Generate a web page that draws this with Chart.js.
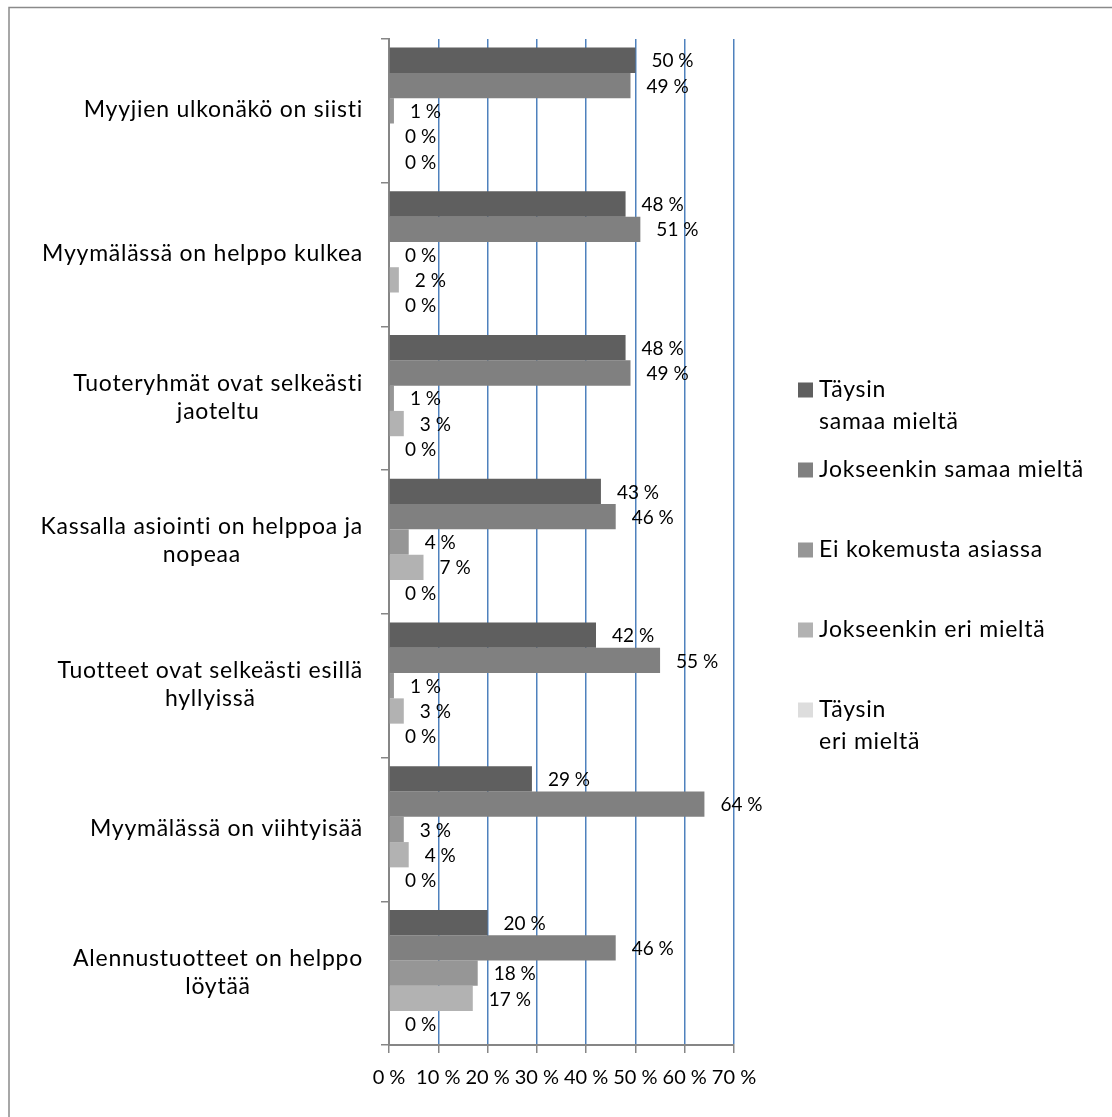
<!DOCTYPE html>
<html>
<head>
<meta charset="utf-8">
<script src="https://cdn.jsdelivr.net/npm/chart.js@4/dist/chart.umd.min.js"></script>
<style>
  html, body { margin: 0; padding: 0; background: #fff; }
  #wrap { width: 1112px; height: 1117px; }
</style>
</head>
<body>
<div id="wrap"><canvas id="c" width="1112" height="1117"></canvas></div>
<script>
// Survey statements (one row per statement, long ones wrapped onto two lines)
const categories = [
  ['Myyjien ulkonäkö on siisti'],
  ['Myymälässä on helppo kulkea'],
  ['Tuoteryhmät ovat selkeästi', 'jaoteltu'],
  ['Kassalla asiointi on helppoa ja', 'nopeaa'],
  ['Tuotteet ovat selkeästi esillä', 'hyllyissä'],
  ['Myymälässä on viihtyisää'],
  ['Alennustuotteet on helppo', 'löytää']
];

// Answer options as shown in the legend
const seriesNames = [
  ['Täysin', 'samaa mieltä'],
  ['Jokseenkin samaa mieltä'],
  ['Ei kokemusta asiassa'],
  ['Jokseenkin eri mieltä'],
  ['Täysin', 'eri mieltä']
];

// Share of respondents (%) per statement
const taysinSamaa     = [50, 48, 48, 43, 42, 29, 20];
const jokseenkinSamaa = [49, 51, 49, 46, 55, 64, 46];
const eiKokemusta     = [1, 0, 1, 4, 1, 3, 18];
const jokseenkinEri   = [0, 2, 3, 7, 3, 4, 17];
const taysinEri       = [0, 0, 0, 0, 0, 0, 0];

// Value axis ticks
const xTicks = [0, 10, 20, 30, 40, 50, 60, 70];

const seriesColors = ['#5f5f5f', '#808080', '#969696', '#b2b2b2', '#dddddd'];
const FONT = 'Lato, "Open Sans", sans-serif';
const LABEL_SIZE = 23;        // category names and legend
const LABEL_SPACING = '0.75px';
const VALUE_SIZE = 19;        // bar value labels

const seriesData = [taysinSamaa, jokseenkinSamaa, eiKokemusta, jokseenkinEri, taysinEri];

// Outer frame (top and left edges)
const framePlugin = {
  id: 'frame',
  beforeDraw(chart) {
    const ctx = chart.ctx;
    ctx.save();
    ctx.strokeStyle = '#8a8a8a';
    ctx.lineWidth = 1.5;
    ctx.beginPath();
    ctx.moveTo(9, chart.height);
    ctx.lineTo(9, 7.5);
    ctx.lineTo(chart.width, 7.5);
    ctx.stroke();
    ctx.restore();
  }
};

// Category names: block right-aligned to the axis, lines centred within the block
const categoryLabelPlugin = {
  id: 'categoryLabels',
  afterDraw(chart) {
    const ctx = chart.ctx;
    const yScale = chart.scales.y;
    ctx.save();
    ctx.font = LABEL_SIZE + 'px ' + FONT;
    ctx.letterSpacing = LABEL_SPACING;
    ctx.fillStyle = '#000';
    ctx.textAlign = 'left';
    ctx.textBaseline = 'middle';
    const rightEdge = chart.chartArea.left - 26;
    const lineH = 28;
    categories.forEach((lines, i) => {
      const widths = lines.map(l => ctx.measureText(l).width);
      const widest = Math.max(...widths);
      const cx = rightEdge - widest / 2;
      const cy = yScale.getPixelForValue(i) - 1;
      const y0 = cy - (lines.length - 1) * lineH / 2;
      lines.forEach((l, j) => ctx.fillText(l, cx - widths[j] / 2, y0 + j * lineH));
    });
    ctx.restore();
  }
};

// Value labels just past the end of each bar
const valueLabelPlugin = {
  id: 'valueLabels',
  afterDatasetsDraw(chart) {
    const ctx = chart.ctx;
    ctx.save();
    ctx.font = VALUE_SIZE + 'px ' + FONT;
    ctx.fillStyle = '#000';
    ctx.textAlign = 'left';
    ctx.textBaseline = 'middle';
    chart.data.datasets.forEach((ds, di) => {
      const meta = chart.getDatasetMeta(di);
      meta.data.forEach((bar, i) => {
        ctx.fillText(ds.data[i] + ' %', bar.x + 16, bar.y + 1);
      });
    });
    ctx.restore();
  }
};

// Legend on the right, with wrapped entries
const legendPlugin = {
  id: 'sideLegend',
  afterDraw(chart) {
    const ctx = chart.ctx;
    ctx.save();
    ctx.font = LABEL_SIZE + 'px ' + FONT;
    ctx.letterSpacing = LABEL_SPACING;
    ctx.textAlign = 'left';
    ctx.textBaseline = 'middle';
    const boxX = 798, textX = 819, firstY = 390, step = 80, lineH = 32, box = 15;
    seriesNames.forEach((lines, i) => {
      const y = firstY + i * step;
      ctx.fillStyle = seriesColors[i];
      ctx.fillRect(boxX, y - box / 2, box, box);
      ctx.fillStyle = '#000';
      lines.forEach((l, j) => ctx.fillText(l, textX, y + j * lineH));
    });
    ctx.restore();
  }
};

new Chart(document.getElementById('c'), {
  type: 'bar',
  data: {
    labels: categories.map(c => c.join(' ')),
    datasets: seriesData.map((d, i) => ({
      label: seriesNames[i].join(' '),
      data: d,
      backgroundColor: seriesColors[i],
      borderWidth: 0,
      categoryPercentage: 0.88,
      barPercentage: 1.0
    }))
  },
  options: {
    indexAxis: 'y',
    responsive: false,
    animation: false,
    devicePixelRatio: 1,
    layout: { padding: { left: 9, top: 39, right: 378, bottom: 22 } },
    plugins: { legend: { display: false }, tooltip: { enabled: false } },
    scales: {
      y: {
        type: 'category',
        offset: true,
        ticks: { display: false },
        grid: {
          offset: true,
          drawOnChartArea: false,
          tickLength: 8,
          tickColor: '#868686',
          lineWidth: 1.5
        },
        border: { color: '#868686', width: 2 },
        afterFit(s) { s.width = 380; }
      },
      x: {
        type: 'linear',
        min: xTicks[0],
        max: xTicks[xTicks.length - 1],
        afterBuildTicks(s) { s.ticks = xTicks.map(v => ({ value: v })); },
        ticks: {
          callback: v => v + ' %',
          font: { family: FONT, size: 20 },
          color: '#000',
          padding: 13,
          maxRotation: 0,
          autoSkip: false
        },
        grid: {
          color: ctx => ctx.index === 0 ? 'rgba(0,0,0,0)' : '#4f81bd',
          lineWidth: 1.5,
          tickLength: 8,
          tickColor: '#868686'
        },
        border: { color: '#868686', width: 2 },
        afterFit(s) { s.height = 50; }
      }
    }
  },
  plugins: [framePlugin, categoryLabelPlugin, valueLabelPlugin, legendPlugin]
});
</script>
</body>
</html>
